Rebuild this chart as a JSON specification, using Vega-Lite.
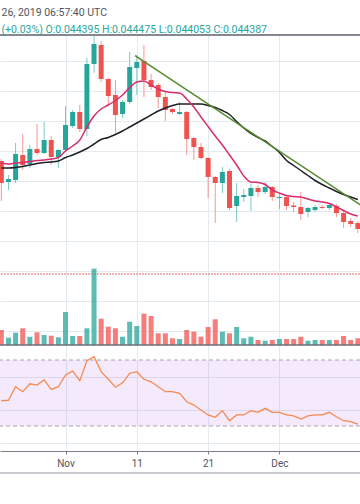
{
  "$schema": "https://vega.github.io/schema/vega-lite/v6.json",
  "width": 360,
  "height": 416,
  "autosize": {"type": "none"},
  "padding": {"left": 0, "top": 35, "right": 0, "bottom": 53},
  "background": "white",
  "title": {
    "text": "26, 2019 06:57:40 UTC",
    "subtitle": "(+0.03%) O:0.044395 H:0.044475 L:0.044053 C:0.044387",
    "anchor": "start",
    "frame": "group",
    "orient": "top",
    "offset": 4.6,
    "subtitlePadding": 5.7,
    "font": "Roboto",
    "fontSize": 10.5,
    "fontWeight": "normal",
    "color": "#50535e",
    "subtitleFont": "Roboto",
    "subtitleFontSize": 10.5,
    "subtitleColor": "#26a69a",
    "dx": 1.5,
    "dy": 5.5
  },
  "datasets": {
    "candles": [
      {"date": "2019-10-23", "open": 0.04574, "high": 0.04578, "low": 0.04494, "close": 0.04530, "volume": 150, "rsi": 45.3, "maFast": 0.04570, "maSlow": 0.04560},
      {"date": "2019-10-24", "open": 0.04532, "high": 0.04546, "low": 0.04516, "close": 0.04538, "volume": 73, "rsi": 45.6, "maFast": 0.04568, "maSlow": 0.04560},
      {"date": "2019-10-25", "open": 0.04536, "high": 0.04610, "low": 0.04530, "close": 0.04588, "volume": 123, "rsi": 53.8, "maFast": 0.04570, "maSlow": 0.04561},
      {"date": "2019-10-26", "open": 0.04586, "high": 0.04628, "low": 0.04556, "close": 0.04566, "volume": 167, "rsi": 50.8, "maFast": 0.04571, "maSlow": 0.04563},
      {"date": "2019-10-27", "open": 0.04568, "high": 0.04606, "low": 0.04560, "close": 0.04598, "volume": 83, "rsi": 55.6, "maFast": 0.04573, "maSlow": 0.04566},
      {"date": "2019-10-28", "open": 0.04598, "high": 0.04648, "low": 0.04586, "close": 0.04590, "volume": 127, "rsi": 54.8, "maFast": 0.04575, "maSlow": 0.04569},
      {"date": "2019-10-29", "open": 0.04590, "high": 0.04652, "low": 0.04588, "close": 0.04616, "volume": 100, "rsi": 57.9, "maFast": 0.04576, "maSlow": 0.04571},
      {"date": "2019-10-30", "open": 0.04616, "high": 0.04624, "low": 0.04566, "close": 0.04582, "volume": 93, "rsi": 52.2, "maFast": 0.04578, "maSlow": 0.04572},
      {"date": "2019-10-31", "open": 0.04582, "high": 0.04598, "low": 0.04560, "close": 0.04596, "volume": 77, "rsi": 53.8, "maFast": 0.04581, "maSlow": 0.04574},
      {"date": "2019-11-01", "open": 0.04596, "high": 0.04684, "low": 0.04592, "close": 0.04646, "volume": 330, "rsi": 60.9, "maFast": 0.04594, "maSlow": 0.04581},
      {"date": "2019-11-02", "open": 0.04644, "high": 0.04676, "low": 0.04640, "close": 0.04672, "volume": 90, "rsi": 63.3, "maFast": 0.04604, "maSlow": 0.04586},
      {"date": "2019-11-03", "open": 0.04672, "high": 0.04686, "low": 0.04632, "close": 0.04638, "volume": 90, "rsi": 57.5, "maFast": 0.04616, "maSlow": 0.04592},
      {"date": "2019-11-04", "open": 0.04638, "high": 0.04780, "low": 0.04624, "close": 0.04768, "volume": 167, "rsi": 69.6, "maFast": 0.04642, "maSlow": 0.04599},
      {"date": "2019-11-05", "open": 0.04768, "high": 0.04824, "low": 0.04750, "close": 0.04808, "volume": 763, "rsi": 72.0, "maFast": 0.04664, "maSlow": 0.04608},
      {"date": "2019-11-06", "open": 0.04806, "high": 0.04814, "low": 0.04732, "close": 0.04738, "volume": 263, "rsi": 62.9, "maFast": 0.04678, "maSlow": 0.04617},
      {"date": "2019-11-07", "open": 0.04738, "high": 0.04740, "low": 0.04686, "close": 0.04704, "volume": 183, "rsi": 58.3, "maFast": 0.04686, "maSlow": 0.04621},
      {"date": "2019-11-08", "open": 0.04706, "high": 0.04736, "low": 0.04630, "close": 0.04666, "volume": 167, "rsi": 53.5, "maFast": 0.04695, "maSlow": 0.04627},
      {"date": "2019-11-09", "open": 0.04668, "high": 0.04696, "low": 0.04660, "close": 0.04692, "volume": 83, "rsi": 56.2, "maFast": 0.04706, "maSlow": 0.04634},
      {"date": "2019-11-10", "open": 0.04692, "high": 0.04792, "low": 0.04688, "close": 0.04762, "volume": 233, "rsi": 61.9, "maFast": 0.04721, "maSlow": 0.04642},
      {"date": "2019-11-11", "open": 0.04760, "high": 0.04786, "low": 0.04706, "close": 0.04772, "volume": 190, "rsi": 62.9, "maFast": 0.04732, "maSlow": 0.04650},
      {"date": "2019-11-12", "open": 0.04774, "high": 0.04806, "low": 0.04702, "close": 0.04736, "volume": 313, "rsi": 58.3, "maFast": 0.04734, "maSlow": 0.04658},
      {"date": "2019-11-13", "open": 0.04736, "high": 0.04748, "low": 0.04716, "close": 0.04722, "volume": 290, "rsi": 56.8, "maFast": 0.04726, "maSlow": 0.04666},
      {"date": "2019-11-14", "open": 0.04726, "high": 0.04730, "low": 0.04680, "close": 0.04702, "volume": 117, "rsi": 53.8, "maFast": 0.04718, "maSlow": 0.04674},
      {"date": "2019-11-15", "open": 0.04702, "high": 0.04712, "low": 0.04654, "close": 0.04676, "volume": 117, "rsi": 50.8, "maFast": 0.04713, "maSlow": 0.04680},
      {"date": "2019-11-16", "open": 0.04678, "high": 0.04680, "low": 0.04668, "close": 0.04672, "volume": 67, "rsi": 50.8, "maFast": 0.04711, "maSlow": 0.04685},
      {"date": "2019-11-17", "open": 0.04668, "high": 0.04692, "low": 0.04666, "close": 0.04672, "volume": 60, "rsi": 49.8, "maFast": 0.04710, "maSlow": 0.04688},
      {"date": "2019-11-18", "open": 0.04672, "high": 0.04674, "low": 0.04586, "close": 0.04618, "volume": 150, "rsi": 44.7, "maFast": 0.04698, "maSlow": 0.04688},
      {"date": "2019-11-19", "open": 0.04620, "high": 0.04622, "low": 0.04576, "close": 0.04602, "volume": 133, "rsi": 42.7, "maFast": 0.04682, "maSlow": 0.04688},
      {"date": "2019-11-20", "open": 0.04602, "high": 0.04610, "low": 0.04578, "close": 0.04580, "volume": 83, "rsi": 39.7, "maFast": 0.04662, "maSlow": 0.04688},
      {"date": "2019-11-21", "open": 0.04580, "high": 0.04582, "low": 0.04500, "close": 0.04542, "volume": 180, "rsi": 36.7, "maFast": 0.04643, "maSlow": 0.04685},
      {"date": "2019-11-22", "open": 0.04542, "high": 0.04544, "low": 0.04450, "close": 0.04530, "volume": 257, "rsi": 35.3, "maFast": 0.04624, "maSlow": 0.04681},
      {"date": "2019-11-23", "open": 0.04530, "high": 0.04562, "low": 0.04510, "close": 0.04552, "volume": 133, "rsi": 39.3, "maFast": 0.04606, "maSlow": 0.04675},
      {"date": "2019-11-24", "open": 0.04554, "high": 0.04558, "low": 0.04476, "close": 0.04480, "volume": 117, "rsi": 33.2, "maFast": 0.04586, "maSlow": 0.04667},
      {"date": "2019-11-25", "open": 0.04484, "high": 0.04530, "low": 0.04452, "close": 0.04504, "volume": 180, "rsi": 36.7, "maFast": 0.04566, "maSlow": 0.04653},
      {"date": "2019-11-26", "open": 0.04502, "high": 0.04518, "low": 0.04492, "close": 0.04506, "volume": 67, "rsi": 36.7, "maFast": 0.04544, "maSlow": 0.04640},
      {"date": "2019-11-27", "open": 0.04504, "high": 0.04528, "low": 0.04474, "close": 0.04520, "volume": 83, "rsi": 39.3, "maFast": 0.04532, "maSlow": 0.04629},
      {"date": "2019-11-28", "open": 0.04520, "high": 0.04526, "low": 0.04502, "close": 0.04512, "volume": 50, "rsi": 38.3, "maFast": 0.04531, "maSlow": 0.04621},
      {"date": "2019-11-29", "open": 0.04512, "high": 0.04532, "low": 0.04508, "close": 0.04522, "volume": 43, "rsi": 40.7, "maFast": 0.04527, "maSlow": 0.04614},
      {"date": "2019-11-30", "open": 0.04522, "high": 0.04524, "low": 0.04494, "close": 0.04502, "volume": 50, "rsi": 38.3, "maFast": 0.04516, "maSlow": 0.04603},
      {"date": "2019-12-01", "open": 0.04500, "high": 0.04508, "low": 0.04478, "close": 0.04502, "volume": 60, "rsi": 38.3, "maFast": 0.04510, "maSlow": 0.04591},
      {"date": "2019-12-02", "open": 0.04502, "high": 0.04504, "low": 0.04476, "close": 0.04484, "volume": 60, "rsi": 36.7, "maFast": 0.04505, "maSlow": 0.04575},
      {"date": "2019-12-03", "open": 0.04485, "high": 0.04492, "low": 0.04472, "close": 0.04482, "volume": 60, "rsi": 36.1, "maFast": 0.04503, "maSlow": 0.04565},
      {"date": "2019-12-04", "open": 0.04482, "high": 0.04512, "low": 0.04456, "close": 0.04468, "volume": 83, "rsi": 34.2, "maFast": 0.04502, "maSlow": 0.04555},
      {"date": "2019-12-05", "open": 0.04472, "high": 0.04482, "low": 0.04462, "close": 0.04480, "volume": 43, "rsi": 36.1, "maFast": 0.04498, "maSlow": 0.04545},
      {"date": "2019-12-06", "open": 0.04476, "high": 0.04486, "low": 0.04472, "close": 0.04482, "volume": 50, "rsi": 36.7, "maFast": 0.04494, "maSlow": 0.04535},
      {"date": "2019-12-07", "open": 0.04482, "high": 0.04486, "low": 0.04478, "close": 0.04480, "volume": 50, "rsi": 36.7, "maFast": 0.04492, "maSlow": 0.04527},
      {"date": "2019-12-08", "open": 0.04480, "high": 0.04490, "low": 0.04476, "close": 0.04486, "volume": 50, "rsi": 38.3, "maFast": 0.04489, "maSlow": 0.04520},
      {"date": "2019-12-09", "open": 0.04484, "high": 0.04488, "low": 0.04462, "close": 0.04470, "volume": 50, "rsi": 35.6, "maFast": 0.04482, "maSlow": 0.04513},
      {"date": "2019-12-10", "open": 0.04470, "high": 0.04474, "low": 0.04440, "close": 0.04452, "volume": 90, "rsi": 33.2, "maFast": 0.04475, "maSlow": 0.04507},
      {"date": "2019-12-11", "open": 0.04454, "high": 0.04460, "low": 0.04442, "close": 0.04448, "volume": 50, "rsi": 32.6, "maFast": 0.04468, "maSlow": 0.04502},
      {"date": "2019-12-12", "open": 0.04450, "high": 0.04454, "low": 0.04430, "close": 0.04438, "volume": 67, "rsi": 31.2, "maFast": 0.04464, "maSlow": 0.04497}
    ],
    "trend": [
      {"date": "2019-11-10T18:00:00Z", "price": 0.047846},
      {"date": "2019-12-13T00:00:00Z", "price": 0.04480}
    ],
    "rsiLevels": [{"level": 70}, {"level": 30}],
    "one": [{}]
  },
  "layer": [
    {
      "data": {"name": "one"},
      "mark": {"type": "rect", "fill": "#b05ee8", "opacity": 0.13},
      "encoding": {
        "x": {"datum": {"year": 2019, "month": 10, "date": 22, "hours": 19, "minutes": 30, "utc": true}, "type": "temporal", "title": null, "scale": {"type": "utc", "nice": false, "padding": 0, "domain": [{"year": 2019, "month": 10, "date": 22, "hours": 19, "minutes": 30, "utc": true}, {"year": 2019, "month": 12, "date": 12, "hours": 7, "minutes": 13, "utc": true}]}, "axis": {"values": [{"year": 2019, "month": 11, "date": 1, "utc": true}, {"year": 2019, "month": 11, "date": 11, "utc": true}, {"year": 2019, "month": 11, "date": 21, "utc": true}, {"year": 2019, "month": 12, "date": 1, "utc": true}], "labelExpr": "utcdate(datum.value) == 1 ? utcFormat(datum.value, '%b') : utcFormat(datum.value, '%d')", "grid": true, "title": null}},
        "x2": {"datum": {"year": 2019, "month": 12, "date": 12, "hours": 7, "minutes": 13, "utc": true}},
        "y": {"datum": 70, "type": "quantitative", "scale": {"domain": [14.85, 266.97], "nice": false, "zero": false}, "axis": {"orient": "left", "values": [20, 40, 60], "grid": true, "labels": false, "ticks": false, "domain": false, "title": null}},
        "y2": {"datum": 30}
      }
    },
    {
      "data": {"name": "rsiLevels"},
      "mark": {"type": "rule", "stroke": "#a3a3ad", "strokeWidth": 1, "strokeDash": [4, 3]},
      "encoding": {
        "y": {"field": "level", "type": "quantitative", "scale": {"domain": [14.85, 266.97], "nice": false, "zero": false}, "axis": null}
      }
    },
    {
      "data": {"name": "candles"},
      "mark": {"type": "line", "stroke": "#f58a4f", "strokeWidth": 1.3},
      "encoding": {
        "x": {"field": "date", "type": "temporal", "title": null, "scale": {"type": "utc", "nice": false, "padding": 0, "domain": [{"year": 2019, "month": 10, "date": 22, "hours": 19, "minutes": 30, "utc": true}, {"year": 2019, "month": 12, "date": 12, "hours": 7, "minutes": 13, "utc": true}]}, "axis": {"values": [{"year": 2019, "month": 11, "date": 1, "utc": true}, {"year": 2019, "month": 11, "date": 11, "utc": true}, {"year": 2019, "month": 11, "date": 21, "utc": true}, {"year": 2019, "month": 12, "date": 1, "utc": true}], "labelExpr": "utcdate(datum.value) == 1 ? utcFormat(datum.value, '%b') : utcFormat(datum.value, '%d')", "grid": true, "title": null}},
        "y": {"field": "rsi", "type": "quantitative", "scale": {"domain": [14.85, 266.97], "nice": false, "zero": false}, "axis": null}
      }
    },
    {
      "data": {"name": "one"},
      "mark": {"type": "rule", "stroke": "#9598a1", "strokeWidth": 1},
      "encoding": {
        "y": {"datum": 1.52, "type": "quantitative", "scale": {"domain": [14.85, 266.97], "nice": false, "zero": false}, "axis": null}
      }
    },
    {
      "data": {"name": "one"},
      "mark": {"type": "rule", "stroke": "#f29a9a", "strokeWidth": 1.5, "strokeDash": [2, 1]},
      "encoding": {
        "y": {"datum": 0.04348, "type": "quantitative", "scale": {"domain": [0.03994, 0.04826], "nice": false, "zero": false}, "axis": {"orient": "right", "values": [0.04774, 0.04714, 0.04654, 0.04594, 0.04534, 0.04474, 0.04414, 0.04354, 0.04294, 0.04234], "grid": true, "labels": false, "ticks": false, "domain": false, "title": null}}
      }
    },
    {
      "data": {"name": "candles"},
      "mark": {"type": "bar", "width": 5, "opacity": 0.75, "clip": true},
      "encoding": {
        "x": {"field": "date", "type": "temporal", "title": null, "scale": {"type": "utc", "nice": false, "padding": 0, "domain": [{"year": 2019, "month": 10, "date": 22, "hours": 19, "minutes": 30, "utc": true}, {"year": 2019, "month": 12, "date": 12, "hours": 7, "minutes": 13, "utc": true}]}, "axis": {"values": [{"year": 2019, "month": 11, "date": 1, "utc": true}, {"year": 2019, "month": 11, "date": 11, "utc": true}, {"year": 2019, "month": 11, "date": 21, "utc": true}, {"year": 2019, "month": 12, "date": 1, "utc": true}], "labelExpr": "utcdate(datum.value) == 1 ? utcFormat(datum.value, '%b') : utcFormat(datum.value, '%d')", "grid": true, "title": null}},
        "y": {"field": "volume", "type": "quantitative", "scale": {"domain": [-1060, 3100], "nice": false, "zero": false}, "axis": null},
        "y2": {"datum": 0},
        "color": {"condition": {"test": "datum.close >= datum.open", "value": "#26a69a"}, "value": "#ef5350"}
      }
    },
    {
      "data": {"name": "candles"},
      "mark": {"type": "rule", "strokeWidth": 1, "opacity": 0.6},
      "encoding": {
        "x": {"field": "date", "type": "temporal", "title": null, "scale": {"type": "utc", "nice": false, "padding": 0, "domain": [{"year": 2019, "month": 10, "date": 22, "hours": 19, "minutes": 30, "utc": true}, {"year": 2019, "month": 12, "date": 12, "hours": 7, "minutes": 13, "utc": true}]}, "axis": {"values": [{"year": 2019, "month": 11, "date": 1, "utc": true}, {"year": 2019, "month": 11, "date": 11, "utc": true}, {"year": 2019, "month": 11, "date": 21, "utc": true}, {"year": 2019, "month": 12, "date": 1, "utc": true}], "labelExpr": "utcdate(datum.value) == 1 ? utcFormat(datum.value, '%b') : utcFormat(datum.value, '%d')", "grid": true, "title": null}},
        "y": {"field": "low", "type": "quantitative", "scale": {"domain": [0.03994, 0.04826], "nice": false, "zero": false}, "axis": null},
        "y2": {"field": "high"},
        "color": {"condition": {"test": "datum.close >= datum.open", "value": "#26a69a"}, "value": "#ef5350"}
      }
    },
    {
      "data": {"name": "candles"},
      "mark": {"type": "bar", "width": 5, "clip": true},
      "encoding": {
        "x": {"field": "date", "type": "temporal", "title": null, "scale": {"type": "utc", "nice": false, "padding": 0, "domain": [{"year": 2019, "month": 10, "date": 22, "hours": 19, "minutes": 30, "utc": true}, {"year": 2019, "month": 12, "date": 12, "hours": 7, "minutes": 13, "utc": true}]}, "axis": {"values": [{"year": 2019, "month": 11, "date": 1, "utc": true}, {"year": 2019, "month": 11, "date": 11, "utc": true}, {"year": 2019, "month": 11, "date": 21, "utc": true}, {"year": 2019, "month": 12, "date": 1, "utc": true}], "labelExpr": "utcdate(datum.value) == 1 ? utcFormat(datum.value, '%b') : utcFormat(datum.value, '%d')", "grid": true, "title": null}},
        "y": {"field": "open", "type": "quantitative", "scale": {"domain": [0.03994, 0.04826], "nice": false, "zero": false}, "axis": null},
        "y2": {"field": "close"},
        "color": {"condition": {"test": "datum.close >= datum.open", "value": "#26a69a"}, "value": "#ef5350"}
      }
    },
    {
      "data": {"name": "candles"},
      "mark": {"type": "line", "stroke": "#1f1f26", "strokeWidth": 1.5, "interpolate": "monotone"},
      "encoding": {
        "x": {"field": "date", "type": "temporal", "title": null, "scale": {"type": "utc", "nice": false, "padding": 0, "domain": [{"year": 2019, "month": 10, "date": 22, "hours": 19, "minutes": 30, "utc": true}, {"year": 2019, "month": 12, "date": 12, "hours": 7, "minutes": 13, "utc": true}]}, "axis": {"values": [{"year": 2019, "month": 11, "date": 1, "utc": true}, {"year": 2019, "month": 11, "date": 11, "utc": true}, {"year": 2019, "month": 11, "date": 21, "utc": true}, {"year": 2019, "month": 12, "date": 1, "utc": true}], "labelExpr": "utcdate(datum.value) == 1 ? utcFormat(datum.value, '%b') : utcFormat(datum.value, '%d')", "grid": true, "title": null}},
        "y": {"field": "maSlow", "type": "quantitative", "scale": {"domain": [0.03994, 0.04826], "nice": false, "zero": false}, "axis": null}
      }
    },
    {
      "data": {"name": "candles"},
      "mark": {"type": "line", "stroke": "#d92d6b", "strokeWidth": 1.5, "interpolate": "monotone"},
      "encoding": {
        "x": {"field": "date", "type": "temporal", "title": null, "scale": {"type": "utc", "nice": false, "padding": 0, "domain": [{"year": 2019, "month": 10, "date": 22, "hours": 19, "minutes": 30, "utc": true}, {"year": 2019, "month": 12, "date": 12, "hours": 7, "minutes": 13, "utc": true}]}, "axis": {"values": [{"year": 2019, "month": 11, "date": 1, "utc": true}, {"year": 2019, "month": 11, "date": 11, "utc": true}, {"year": 2019, "month": 11, "date": 21, "utc": true}, {"year": 2019, "month": 12, "date": 1, "utc": true}], "labelExpr": "utcdate(datum.value) == 1 ? utcFormat(datum.value, '%b') : utcFormat(datum.value, '%d')", "grid": true, "title": null}},
        "y": {"field": "maFast", "type": "quantitative", "scale": {"domain": [0.03994, 0.04826], "nice": false, "zero": false}, "axis": null}
      }
    },
    {
      "data": {"name": "trend"},
      "mark": {"type": "line", "stroke": "#558b2f", "strokeWidth": 1.5, "clip": true},
      "encoding": {
        "x": {"field": "date", "type": "temporal", "title": null, "scale": {"type": "utc", "nice": false, "padding": 0, "domain": [{"year": 2019, "month": 10, "date": 22, "hours": 19, "minutes": 30, "utc": true}, {"year": 2019, "month": 12, "date": 12, "hours": 7, "minutes": 13, "utc": true}]}, "axis": {"values": [{"year": 2019, "month": 11, "date": 1, "utc": true}, {"year": 2019, "month": 11, "date": 11, "utc": true}, {"year": 2019, "month": 11, "date": 21, "utc": true}, {"year": 2019, "month": 12, "date": 1, "utc": true}], "labelExpr": "utcdate(datum.value) == 1 ? utcFormat(datum.value, '%b') : utcFormat(datum.value, '%d')", "grid": true, "title": null}},
        "y": {"field": "price", "type": "quantitative", "scale": {"domain": [0.03994, 0.04826], "nice": false, "zero": false}, "axis": null}
      }
    },
    {
      "data": {"name": "one"},
      "mark": {"type": "rule", "stroke": "#5d606b", "strokeWidth": 1.5},
      "encoding": {
        "y": {"datum": 0.04826, "type": "quantitative", "scale": {"domain": [0.03994, 0.04826], "nice": false, "zero": false}, "axis": null}
      }
    },
    {
      "data": {"name": "one"},
      "mark": {"type": "rule", "stroke": "#6b6e78", "strokeWidth": 1.5},
      "encoding": {
        "y": {"datum": 0.04206, "type": "quantitative", "scale": {"domain": [0.03994, 0.04826], "nice": false, "zero": false}, "axis": null}
      }
    }
  ],
  "resolve": {"scale": {"y": "independent"}},
  "config": {
    "view": {"stroke": null},
    "font": "Roboto",
    "scale": {"continuousPadding": 0},
    "axis": {"gridColor": "#e3eaf0", "gridWidth": 1},
    "axisX": {"domainColor": "#7b7e88", "domainWidth": 1, "tickColor": "#7b7e88", "tickSize": 3, "labelColor": "#50535e", "labelFont": "Roboto", "labelFontSize": 10, "labelPadding": 4, "labelFlush": false, "labelOverlap": false}
  }
}
